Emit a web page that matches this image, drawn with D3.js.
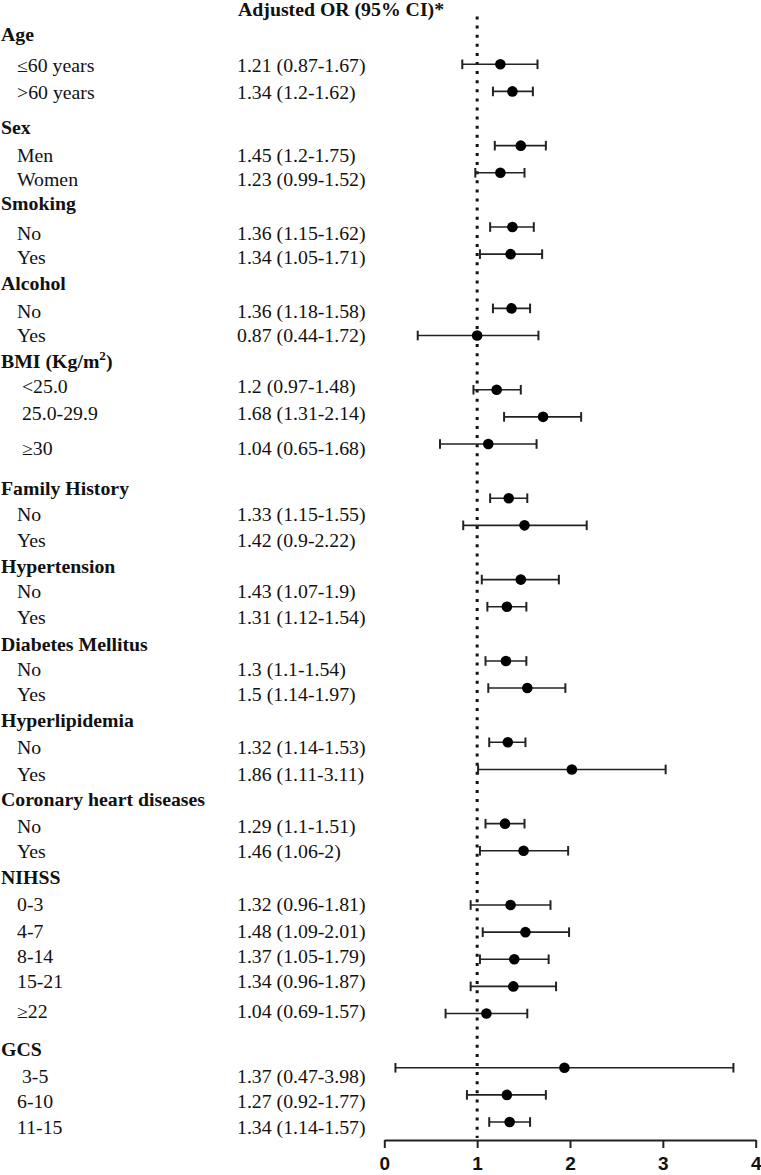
<!DOCTYPE html>
<html>
<head>
<meta charset="utf-8">
<script src="https://cdn.jsdelivr.net/npm/d3@7"></script>
<style>
  html, body { margin: 0; padding: 0; background: #fff; }
  svg { display: block; }
  .serif { font-family: "Liberation Serif", "Times New Roman", serif; fill: #111; white-space: pre; }
</style>
</head>
<body>
<div id="chart"></div>
<script>
// ---------------- DATA ----------------
const headerText = "Adjusted OR (95% CI)*";
const groups = ["Age", "Sex", "Smoking", "Alcohol", "BMI", "Family History", "Hypertension",
  "Diabetes Mellitus", "Hyperlipidemia", "Coronary heart diseases", "NIHSS", "GCS"];
const subgroups = [
  ["≤60 years", ">60 years"],
  ["Men", "Women"],
  ["No", "Yes"],
  ["No", "Yes"],
  [" <25.0", " 25.0-29.9", " ≥30"],
  ["No", "Yes"],
  ["No", "Yes"],
  ["No", "Yes"],
  ["No", "Yes"],
  ["No", "Yes"],
  ["0-3", "4-7", "8-14", "15-21", "≥22"],
  [" 3-5", "6-10", "11-15"]
];
const orLabels = [
  "1.21 (0.87-1.67)", "1.34 (1.2-1.62)",
  "1.45 (1.2-1.75)", "1.23 (0.99-1.52)",
  "1.36 (1.15-1.62)", "1.34 (1.05-1.71)",
  "1.36 (1.18-1.58)", "0.87 (0.44-1.72)",
  "1.2 (0.97-1.48)", "1.68 (1.31-2.14)", "1.04 (0.65-1.68)",
  "1.33 (1.15-1.55)", "1.42 (0.9-2.22)",
  "1.43 (1.07-1.9)", "1.31 (1.12-1.54)",
  "1.3 (1.1-1.54)", "1.5 (1.14-1.97)",
  "1.32 (1.14-1.53)", "1.86 (1.11-3.11)",
  "1.29 (1.1-1.51)", "1.46 (1.06-2)",
  "1.32 (0.96-1.81)", "1.48 (1.09-2.01)", "1.37 (1.05-1.79)", "1.34 (0.96-1.87)", "1.04 (0.69-1.57)",
  "1.37 (0.47-3.98)", "1.27 (0.92-1.77)", "1.34 (1.14-1.57)"
];
// plotted estimates and interval ends
const estimate = [1.25, 1.38, 1.47, 1.25, 1.38, 1.36, 1.37, 1.00, 1.21, 1.71, 1.12,
  1.34, 1.51, 1.47, 1.32, 1.31, 1.54, 1.33, 2.02, 1.30, 1.50,
  1.36, 1.52, 1.40, 1.39, 1.10, 1.94, 1.32, 1.35];
const lower = [0.84, 1.17, 1.19, 0.98, 1.14, 1.03, 1.17, 0.36, 0.96, 1.29, 0.60,
  1.14, 0.85, 1.05, 1.11, 1.09, 1.12, 1.13, 1.01, 1.09, 1.03,
  0.93, 1.06, 1.03, 0.93, 0.66, 0.12, 0.89, 1.13];
const upper = [1.65, 1.60, 1.74, 1.51, 1.61, 1.70, 1.57, 1.66, 1.47, 2.12, 1.64,
  1.54, 2.18, 1.88, 1.53, 1.53, 1.95, 1.52, 3.03, 1.51, 1.98,
  1.79, 1.99, 1.77, 1.85, 1.54, 3.76, 1.74, 1.57];
const xTicks = [0, 1, 2, 3, 4];
const refValue = 1;

// ---------------- LAYOUT ----------------
const W = 761, H = 1175;
const textBaselines = [41, 72, 99, 134, 161.5, 186, 210, 240, 264, 290, 318, 342, 368, 393, 420, 455,
  495, 521, 547, 573, 598, 624, 651, 676, 701, 727, 754, 781, 806, 833, 858, 884, 911, 938, 963, 988,
  1018, 1056, 1083, 1108, 1134];
const stretch = 1.1;
const fontSize = 18;

const svg = d3.select("#chart").append("svg").attr("width", W).attr("height", H);

// build row list
const rows = [];
let k = -1, itemIdx = 0;
groups.forEach((g, gi) => {
  rows.push({ type: "group", label: g, gi, k: k++ });
  subgroups[gi].forEach(s => {
    rows.push({ type: "item", label: s, k: k++, i: itemIdx, or: orLabels[itemIdx],
      est: estimate[itemIdx], lo: lower[itemIdx], hi: upper[itemIdx] });
    itemIdx++;
  });
});
const items = rows.filter(r => r.type === "item");
const maxK = d3.max(items, d => d.k);

const x = d3.scaleLinear().domain([0, 4]).range([384.3, 755.7]);
const y = d3.scaleLinear().domain([0, maxK]).range([64.3, 1122]);
const axisY = 1140;

function placeText(sel, tx, ty) {
  sel.attr("transform", `translate(${tx},${ty}) scale(${stretch},1)`);
}

// header
svg.append("text").attr("class", "serif").attr("font-weight", "bold").attr("font-size", fontSize)
  .text(headerText).call(placeText, 238, 16);

// left text column
rows.forEach((r, ri) => {
  const by = textBaselines[ri];
  if (r.type === "group") {
    const t = svg.append("text").attr("class", "serif").attr("font-weight", "bold")
      .attr("font-size", fontSize).call(placeText, 1, by);
    if (r.label === "BMI") {
      t.append("tspan").text("BMI (Kg/m");
      t.append("tspan").attr("font-size", 12).attr("dy", -8).text("2");
      t.append("tspan").attr("dy", 8).text(")");
    } else {
      t.text(r.label);
    }
  } else {
    svg.append("text").attr("class", "serif").attr("font-size", fontSize)
      .text(r.label).call(placeText, 17, by);
    svg.append("text").attr("class", "serif").attr("font-size", fontSize)
      .text(r.or).call(placeText, 237, by);
  }
});

// reference dotted line
svg.append("line")
  .attr("x1", x(refValue)).attr("x2", x(refValue))
  .attr("y1", 16.5).attr("y2", axisY - 2)
  .attr("stroke", "#111").attr("stroke-width", 3)
  .attr("stroke-dasharray", "3,6.1");

// CI whiskers
const g = svg.append("g").attr("stroke", "#222");
g.selectAll("line.ci").data(items).join("line").attr("class", "ci")
  .attr("x1", d => x(d.lo)).attr("x2", d => x(d.hi))
  .attr("y1", d => y(d.k)).attr("y2", d => y(d.k))
  .attr("stroke-width", 1.6);
g.selectAll("line.capL").data(items).join("line").attr("class", "capL")
  .attr("x1", d => x(d.lo)).attr("x2", d => x(d.lo))
  .attr("y1", d => y(d.k) - 4.8).attr("y2", d => y(d.k) + 4.8)
  .attr("stroke-width", 2);
g.selectAll("line.capR").data(items).join("line").attr("class", "capR")
  .attr("x1", d => x(d.hi)).attr("x2", d => x(d.hi))
  .attr("y1", d => y(d.k) - 4.8).attr("y2", d => y(d.k) + 4.8)
  .attr("stroke-width", 2);
svg.selectAll("circle.pt").data(items).join("circle").attr("class", "pt")
  .attr("cx", d => x(d.est)).attr("cy", d => y(d.k)).attr("r", 5.3)
  .attr("fill", "#000");

// x axis
const axis = d3.axisBottom(x).tickValues(xTicks).tickFormat(d3.format("d"))
  .tickSizeInner(8).tickSizeOuter(0).tickPadding(9);
const ax = svg.append("g").attr("transform", `translate(0,${axisY})`).call(axis);
ax.select(".domain").attr("stroke", "#222").attr("stroke-width", 2);
ax.selectAll(".tick line").attr("stroke", "#222").attr("stroke-width", 2);
ax.selectAll(".tick text")
  .attr("font-family", "'Liberation Sans', Arial, sans-serif")
  .attr("font-weight", "bold").attr("font-size", 19).attr("fill", "#111");
</script>
</body>
</html>
